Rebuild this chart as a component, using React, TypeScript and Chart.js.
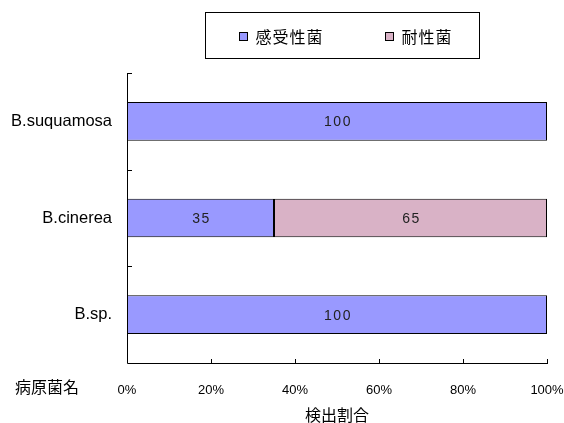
import React, { useEffect, useRef } from 'react';
import { Chart, registerables } from 'chart.js';

Chart.register(...registerables);

// Pathogen names (top to bottom) and detection share (%) by type
const categories = ['B.suquamosa', 'B.cinerea', 'B.sp.'];
const susceptible = [100, 35, 100];
const resistant = [null, 65, null];
const seriesNames = ['感受性菌', '耐性菌'];
const seriesColors = ['#9999FF', '#D9B2C6'];
const xTicks = [0, 20, 40, 60, 80, 100];
const xTitle = '検出割合';
const yTitle = '病原菌名';

const LATIN = "'Liberation Sans', Arial, sans-serif";
const CJK = "'Noto Sans CJK JP', 'Liberation Sans', sans-serif";

// Short tick marks pointing into the plot area
const innerTicks = {
  id: 'innerTicks',
  afterDraw(chart: any) {
    const { ctx, chartArea, scales } = chart;
    const x = scales.x;
    const y = scales.y;
    ctx.save();
    ctx.strokeStyle = '#000';
    ctx.lineWidth = 1;
    ctx.beginPath();
    // axis lines
    ctx.moveTo(Math.round(chartArea.left) + 0.5, chartArea.top);
    ctx.lineTo(Math.round(chartArea.left) + 0.5, Math.round(chartArea.bottom) + 0.5);
    ctx.lineTo(chartArea.right + 1, Math.round(chartArea.bottom) + 0.5);
    // x ticks
    xTicks.forEach((v) => {
      const px = Math.round(x.getPixelForValue(v)) + 0.5;
      ctx.moveTo(px, Math.round(chartArea.bottom));
      ctx.lineTo(px, Math.round(chartArea.bottom) - 4);
    });
    // y ticks at category boundaries
    for (let i = 0; i < categories.length; i++) {
      const py = Math.round(y.getPixelForValue(i) - (y.getPixelForValue(1) - y.getPixelForValue(0)) / 2) + 0.5;
      ctx.moveTo(chartArea.left, py);
      ctx.lineTo(chartArea.left + 5, py);
    }
    ctx.stroke();
    ctx.restore();
  },
};

// Value labels centred on each bar segment
const barValues = {
  id: 'barValues',
  afterDatasetsDraw(chart: any) {
    const { ctx } = chart;
    ctx.save();
    ctx.font = `14px ${LATIN}`;
    (ctx as any).letterSpacing = '1.5px';
    ctx.fillStyle = '#222';
    ctx.textAlign = 'center';
    ctx.textBaseline = 'middle';
    chart.data.datasets.forEach((ds: any, di: number) => {
      const meta = chart.getDatasetMeta(di);
      meta.data.forEach((el: any, i: number) => {
        const v = ds.data[i];
        if (v === null || v === undefined) return;
        const { x, base, y } = el.getProps(['x', 'base', 'y'], true);
        ctx.fillText(String(v), (x + base) / 2 + 1, y + 1);
      });
    });
    ctx.restore();
  },
};

// Boxed legend above the plot and the category axis caption
const boxedLegend = {
  id: 'boxedLegend',
  afterDraw(chart: any) {
    const { ctx } = chart;
    const left = 205.5;
    const top = 12.5;
    const w = 274;
    const h = 46;
    ctx.save();
    ctx.strokeStyle = '#000';
    ctx.lineWidth = 1;
    ctx.strokeRect(left, top, w, h);
    const offsets = [34, 180];
    ctx.font = `16px ${CJK}`;
    (ctx as any).letterSpacing = '1px';
    ctx.textBaseline = 'middle';
    ctx.textAlign = 'left';
    chart.data.datasets.forEach((ds: any, i: number) => {
      const sx = left + offsets[i];
      const sy = 32.5;
      ctx.fillStyle = ds.backgroundColor;
      ctx.fillRect(sx, sy, 8, 8);
      ctx.strokeStyle = '#000';
      ctx.strokeRect(sx, sy, 8, 8);
      ctx.fillStyle = '#000';
      ctx.fillText(ds.label, sx + 16, 37);
    });
    // category axis caption
    ctx.font = `16px ${CJK}`;
    (ctx as any).letterSpacing = '0px';
    ctx.fillText(yTitle, 15, 387);
    ctx.restore();
  },
};

export default function App() {
  const ref = useRef<HTMLCanvasElement | null>(null);

  useEffect(() => {
    if (!ref.current) return;
    const chart = new Chart(ref.current, {
      type: 'bar',
      data: {
        labels: categories,
        datasets: [
          {
            label: seriesNames[0],
            data: susceptible,
            backgroundColor: seriesColors[0],
            borderColor: '#000',
            borderWidth: 1,
            borderSkipped: false,
            barPercentage: 1,
            categoryPercentage: 0.4,
          },
          {
            label: seriesNames[1],
            data: resistant as any,
            backgroundColor: seriesColors[1],
            borderColor: '#000',
            borderWidth: 1,
            borderSkipped: false,
            barPercentage: 1,
            categoryPercentage: 0.4,
          },
        ],
      },
      options: {
        indexAxis: 'y',
        animation: false,
        responsive: true,
        maintainAspectRatio: false,
        layout: { padding: { top: 73, right: 17, left: 0, bottom: 0 } },
        plugins: {
          legend: { display: false },
          tooltip: { enabled: false },
          title: { display: false },
        },
        scales: {
          x: {
            type: 'linear',
            stacked: true,
            min: 0,
            max: 100,
            afterBuildTicks: (scale: any) => {
              scale.ticks = xTicks.map((v) => ({ value: v }));
            },
            afterFit: (scale: any) => {
              scale.height = 60;
              scale.paddingLeft = 0;
              scale.paddingRight = 0;
            },
            grid: { display: false, drawTicks: false },
            border: { display: false },
            ticks: {
              padding: 20,
              color: '#000',
              font: { family: LATIN, size: 13 },
              callback: (v: any) => `${v}%`,
              maxRotation: 0,
            },
            title: {
              display: true,
              text: xTitle,
              color: '#000',
              font: { family: CJK, size: 16 },
              padding: { top: 0, bottom: -2 },
            },
          },
          y: {
            type: 'category',
            stacked: true,
            afterFit: (scale: any) => {
              scale.width = 127;
              scale.paddingTop = 0;
              scale.paddingBottom = 0;
            },
            grid: { display: false, drawTicks: false },
            border: { display: false },
            ticks: {
              padding: 15,
              color: '#000',
              font: { family: LATIN, size: 16.5 },
            },
          },
        },
      },
      plugins: [innerTicks, barValues, boxedLegend],
    });
    return () => chart.destroy();
  }, []);

  return (
    <div style={{ position: 'absolute', left: 0, top: 0, width: 564, height: 423, background: '#fff' }}>
      <canvas ref={ref} />
    </div>
  );
}
